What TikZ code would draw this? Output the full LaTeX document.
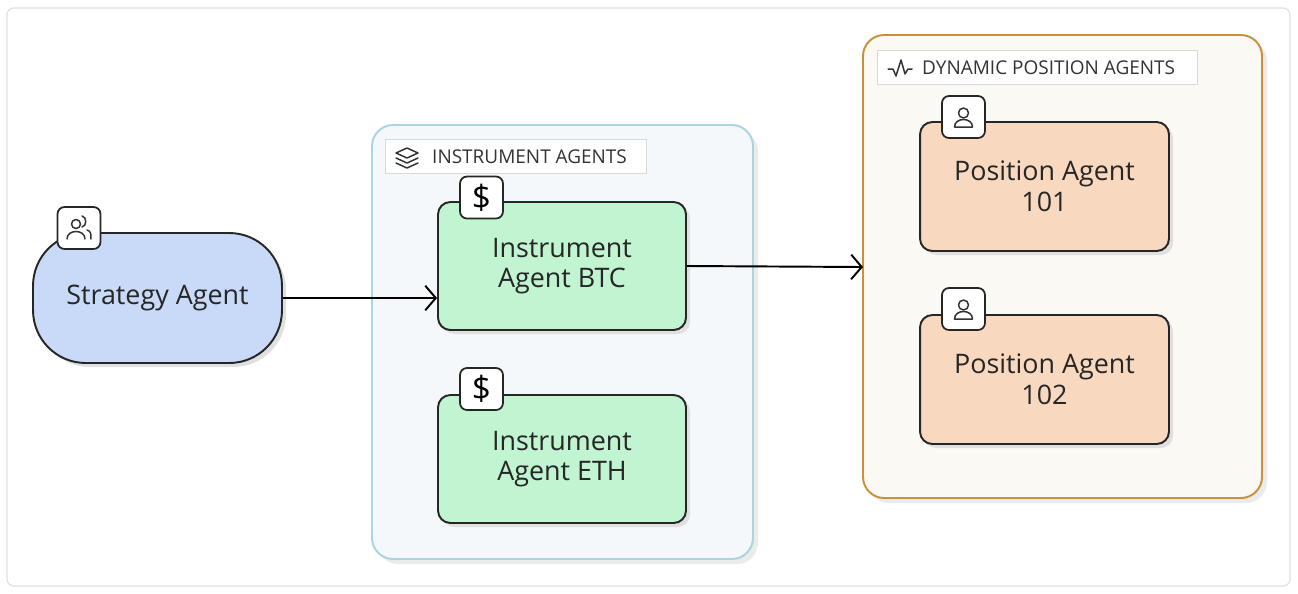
\documentclass[tikz,border=0pt]{standalone}
\usepackage{fontspec}
\setmainfont{Open Sans}
\usetikzlibrary{arrows.meta}
\definecolor{sblue}{HTML}{C9DAF8}
\definecolor{igreen}{HTML}{C1F5D1}
\definecolor{porange}{HTML}{F8D9C0}
\definecolor{gblue}{HTML}{A9D4E0}
\definecolor{gbluef}{HTML}{F4F8FB}
\definecolor{gbrown}{HTML}{C99139}
\definecolor{gbrownf}{HTML}{FBF9F3}
\begin{document}
\begin{tikzpicture}[x=0.02cm,y=-0.02cm,
  agent/.style={draw=black!85,line width=1.1pt,rounded corners=7pt,align=center,font=\fontsize{15.3}{17.5}\selectfont,text=black!85},
  icon/.style={draw=black!85,fill=white,line width=1pt,rounded corners=4pt,minimum width=0.86cm,minimum height=0.84cm,inner sep=0pt},
  ic/.style={line width=0.85pt,black!80,line join=round,line cap=round},
  grp/.style={line width=1.1pt,rounded corners=12pt},
  lbl/.style={draw=black!15,fill=white,line width=0.5pt,anchor=north west,minimum height=0.68cm,inner sep=0pt},
  lt/.style={anchor=west,font=\fontsize{10.8}{12}\selectfont,text=black!80},
  conn/.style={line width=1.1pt,-{Straight Barb[length=6pt,width=14pt,line width=1.1pt]}}]
\useasboundingbox (0,0) rectangle (1298,593);
\draw[black!12,line width=0.7pt,rounded corners=4pt] (7,8) rectangle (1290,586);
% groups
\fill[black!8,rounded corners=12pt] (377,130) rectangle (758,564);
\draw[grp,draw=gblue,fill=gbluef] (372,125) rectangle (753,559);
\fill[black!8,rounded corners=12pt] (868,40) rectangle (1267,503);
\draw[grp,draw=gbrown,fill=gbrownf] (863,35) rectangle (1262,498);
\node[lbl,minimum width=5.22cm] (l1) at (385,139) {};
\node[lt] (l1t) at (426,157) {INSTRUMENT AGENTS};
\node[lbl,minimum width=6.4cm] (l2) at (877,50) {};
\node[lt] (l2t) at (916,68) {DYNAMIC POSITION AGENTS};
% layers icon
\begin{scope}[shift={(407,157)},ic]
\draw (0,-9) -- (11,-4) -- (0,1) -- (-11,-4) -- cycle;
\draw (-11,1) -- (0,6) -- (11,1);
\draw (-11,6) -- (0,11) -- (11,6);
\end{scope}
% pulse icon
\draw[ic] (888,69) -- (893,69) -- (896,76) -- (901,60) -- (905,74) -- (908,69) -- (912,69);
% shadows
\foreach \a/\b/\c/\d in {438/202/686/330,438/395/686/523,920/122/1169/251,920/315/1169/444}
  \fill[black!12,rounded corners=7pt] (\a+4,\b+4) rectangle (\c+4,\d+4);
\fill[black!12,rounded corners=30pt] (37,237) rectangle (286,367);
% nodes
\node[agent,fill=sblue,rounded corners=30pt,minimum width=4.98cm,minimum height=2.6cm] (s) at (157.5,298) {Strategy Agent};
\node[agent,fill=igreen,minimum width=4.96cm,minimum height=2.56cm] (btc) at (562,266) {Instrument\\Agent BTC};
\node[agent,fill=igreen,minimum width=4.96cm,minimum height=2.56cm] (eth) at (562,459) {Instrument\\Agent ETH};
\node[agent,fill=porange,minimum width=4.98cm,minimum height=2.58cm] (p1) at (1044.5,186.5) {Position Agent\\101};
\node[agent,fill=porange,minimum width=4.98cm,minimum height=2.58cm] (p2) at (1044.5,379.5) {Position Agent\\102};
% icons
\node[icon] (is) at (79,228) {};
\begin{scope}[shift={(79,228)},ic]
\draw (-3,-4) circle[radius=4.5];
\draw (-12,11) .. controls (-12,1) and (6,1) .. (6,11);
\draw (3,-12) .. controls (8,-11) and (8,-2) .. (3,-1);
\draw (8,2) .. controls (12,3) and (12,6) .. (12,11);
\end{scope}
\node[icon,font=\fontsize{19}{19}\selectfont] (ib) at (481.5,197.5) {\$};
\node[icon,font=\fontsize{19}{19}\selectfont] (ie) at (481.5,389) {\$};
\node[icon] (ip1) at (963.5,117) {};
\node[icon] (ip2) at (963.5,309) {};
\foreach \y in {117,309}{
  \begin{scope}[shift={(963.5,\y)},ic]
  \draw (0,-4) circle[radius=5];
  \draw (-9,10) .. controls (-9,0) and (9,0) .. (9,10) -- cycle;
  \end{scope}
}
% connectors
\draw[conn] (s.east) -- (btc.west |- s.east);
\coordinate (gin) at (863,267);
\draw[conn] (btc.east) -- (gin);
\end{tikzpicture}
\end{document}
